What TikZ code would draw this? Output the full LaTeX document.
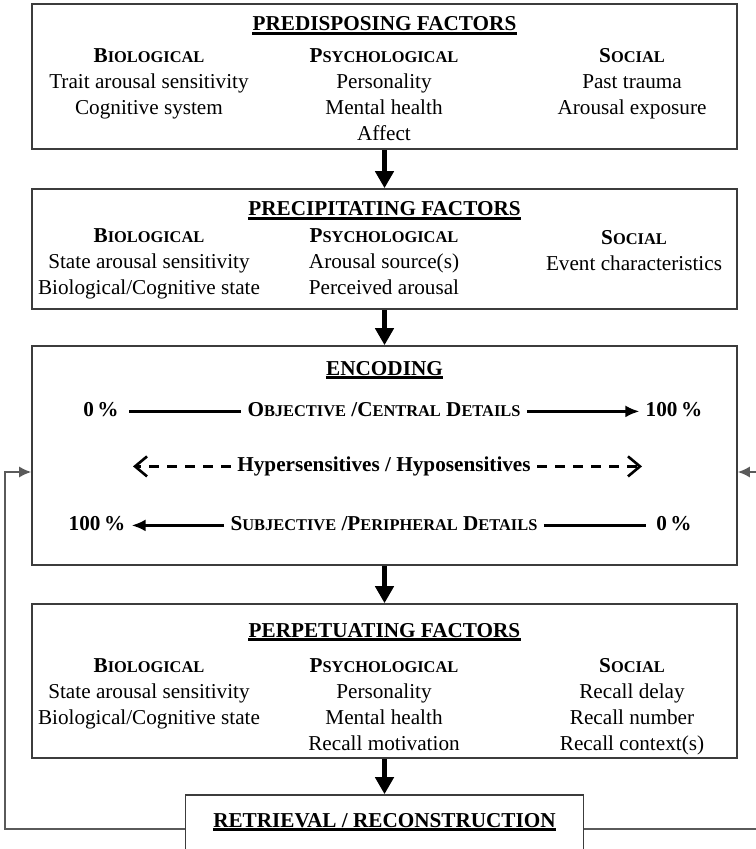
\documentclass[tikz,border=0pt]{standalone}
\usepackage{fontspec}
\setmainfont{Liberation Serif}
\usetikzlibrary{arrows.meta}
\usetikzlibrary{positioning}
\definecolor{boxgray}{HTML}{3C3C3C}
\definecolor{fbgray}{HTML}{5A5A5A}
\newcommand\smc[1]{{\fontsize{8.2pt}{10pt}\selectfont #1}}

\tikzset{
  box/.style={draw=boxgray, line width=0.8pt, inner sep=0pt},
  heading/.style={font=\fontsize{10.6pt}{13pt}\selectfont\bfseries, inner sep=0pt, anchor=base},
  factors/.style={font=\fontsize{10.6pt}{13pt}\selectfont, align=center, inner sep=0pt, anchor=north},
  rowtext/.style={font=\fontsize{10.6pt}{13pt}\selectfont\bfseries, inner xsep=3pt, inner ysep=0pt, anchor=base},
  uline/.style={line width=1.3pt},
  flow/.style={line width=2.6pt, -{Triangle[length=8.5pt,width=9pt]}},
  gauge/.style={line width=1.2pt},
  gaugetip/.style={gauge, -{Latex[length=7pt,width=6pt]}},
  sens/.style={line width=1.3pt, dash pattern=on 5pt off 4pt, -{Straight Barb[length=6pt,width=10pt]}},
  loopback/.style={draw=fbgray, line width=0.75pt, -{Latex[length=6pt,width=5.5pt]}}
}

\begin{document}
\begin{tikzpicture}[x=0.5pt,y=-0.5pt]
\useasboundingbox (0,0) rectangle (755,849);

% boxes
\node[box, minimum width=352.5pt, minimum height=72.5pt] (pred) at (384.5,76.5) {};
\node[box, minimum width=352.5pt, minimum height=60pt] (prec) at (384.5,249) {};
\node[box, minimum width=352.5pt, minimum height=109.5pt] (enc) at (384.5,455.5) {};
\node[box, minimum width=352.5pt, minimum height=77pt] (perp) at (384.5,681) {};
\node[box, minimum width=199pt, minimum height=34pt] (ret) at (384.5,829) {};

% titles
\node[heading] (predtitle) at (384.5,31) {PREDISPOSING FACTORS};
\node[heading] (prectitle) at (384.5,216) {PRECIPITATING FACTORS};
\node[heading] (enctitle) at (384.5,375) {ENCODING};
\node[heading] (perptitle) at (384.5,637) {PERPETUATING FACTORS};
\node[heading] (rettitle) at (384.5,827) {RETRIEVAL / RECONSTRUCTION};
\foreach \t in {predtitle,prectitle,enctitle,perptitle,rettitle}
  \draw[uline] ([yshift=-1.3pt]\t.base west) -- ([yshift=-1.3pt]\t.base east);

% predisposing
\node[factors] (predbio) at (149,48) {\textbf{B\smc{IOLOGICAL}}\\Trait arousal sensitivity\\Cognitive system};
\node[factors] (predpsy) at (384,48) {\textbf{P\smc{SYCHOLOGICAL}}\\Personality\\Mental health\\Affect};
\node[factors] (predsoc) at (632,48) {\textbf{S\smc{OCIAL}}\\Past trauma\\Arousal exposure};

% precipitating
\node[factors] (precbio) at (149,228) {\textbf{B\smc{IOLOGICAL}}\\State arousal sensitivity\\Biological/Cognitive state};
\node[factors] (precpsy) at (384,228) {\textbf{P\smc{SYCHOLOGICAL}}\\Arousal source(s)\\Perceived arousal};
\node[factors] (precsoc) at (634,230) {\textbf{S\smc{OCIAL}}\\Event characteristics};

% encoding
\node[rowtext] (objlo) at (101,416) {0\,\%};
\node[rowtext] (objmid) at (384,416) {O\smc{BJECTIVE} /C\smc{ENTRAL} D\smc{ETAILS}};
\node[rowtext] (objhi) at (674,416) {100\,\%};
\draw[gauge] ([xshift=2pt]objlo.mid east) -- (objmid.mid west);
\draw[gaugetip] (objmid.mid east) -- (objhi.mid west);

\node[rowtext] (sensmid) at (384,471) {Hypersensitives / Hyposensitives};
\coordinate (senslo) at (133,466);
\coordinate (senshi) at (642,466);
\draw[sens] (sensmid.mid west) -- (sensmid.mid west -| senslo);
\draw[sens] (sensmid.mid east) -- (sensmid.mid east -| senshi);

\node[rowtext] (subjlo) at (97,530) {100\,\%};
\node[rowtext] (subjmid) at (384,530) {S\smc{UBJECTIVE} /P\smc{ERIPHERAL} D\smc{ETAILS}};
\node[rowtext] (subjhi) at (674,530) {0\,\%};
\draw[gaugetip] (subjmid.mid west) -- (subjlo.mid east);
\draw[gauge] (subjmid.mid east) -- ([xshift=-2pt]subjhi.mid west);

% perpetuating
\node[factors] (perpbio) at (149,658) {\textbf{B\smc{IOLOGICAL}}\\State arousal sensitivity\\Biological/Cognitive state};
\node[factors] (perppsy) at (384,658) {\textbf{P\smc{SYCHOLOGICAL}}\\Personality\\Mental health\\Recall motivation};
\node[factors] (perpsoc) at (632,658) {\textbf{S\smc{OCIAL}}\\Recall delay\\Recall number\\Recall context(s)};

% flow
\draw[flow] (pred) -- (prec);
\draw[flow] (prec) -- (enc);
\draw[flow] (enc) -- (perp);
\draw[flow] (perp) -- (ret);

% back to encoding
\coordinate (backl) at (5,472);
\coordinate (backr) at (770,472);
\draw[loopback] (ret.west) -| (backl) -- (backl -| enc.west);
\draw[loopback] (ret.east) -| (backr) -- (backr -| enc.east);

\end{tikzpicture}
\end{document}
